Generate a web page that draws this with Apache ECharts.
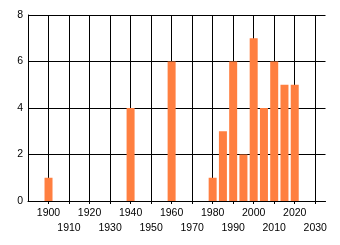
<!DOCTYPE html>
<html>
<head>
<meta charset="utf-8">
<script src="https://cdn.jsdelivr.net/npm/echarts@6/dist/echarts.min.js"></script>
<style>
html,body{margin:0;padding:0;background:#fff;}
#c{width:340px;height:245px;}
</style>
</head>
<body>
<div id="c"></div>
<script>
var years = [1900, 1940, 1960, 1980, 1985, 1990, 1995, 2000, 2005, 2010, 2015, 2020];
var counts = [1, 4, 6, 1, 3, 6, 2, 7, 4, 6, 5, 5];
var yTicks = [0, 2, 4, 6, 8];

var chart = echarts.init(document.getElementById('c'), null, {renderer: 'canvas'});
var font = 'Liberation Sans, Arial, sans-serif';
chart.setOption({
  animation: false,
  grid: {left: 28, right: 14.5, top: 15, bottom: 44, containLabel: false},
  xAxis: {
    type: 'value',
    min: 1890, max: 2035, interval: 10,
    axisLine: {show: true, lineStyle: {color: '#000', width: 1}},
    axisTick: {show: true, length: 3, lineStyle: {color: '#000', width: 1}},
    splitLine: {show: true, showMinLine: false, showMaxLine: false, lineStyle: {color: '#000', width: 1}},
    axisLabel: {
      show: true, showMinLabel: false, showMaxLabel: false,
      margin: 4, color: '#000', fontFamily: font, fontSize: 10.5, lineHeight: 15.5,
      formatter: function (v) {
        if (v % 10 !== 0) return '';
        return (((v - 1900) / 10) % 2 === 0) ? String(v) : '\n' + v;
      }
    }
  },
  yAxis: {
    type: 'value',
    min: yTicks[0], max: yTicks[yTicks.length - 1], interval: 2,
    axisLine: {show: true, lineStyle: {color: '#000', width: 1}},
    axisTick: {show: false},
    splitLine: {show: true, lineStyle: {color: '#000', width: 1}},
    axisLabel: {margin: 5, color: '#000', fontFamily: font, fontSize: 10.5}
  },
  series: [{
    type: 'bar',
    barWidth: 8,
    itemStyle: {color: '#FF7F40'},
    data: years.map(function (y, i) { return [y, counts[i]]; })
  }]
});
</script>
</body>
</html>
